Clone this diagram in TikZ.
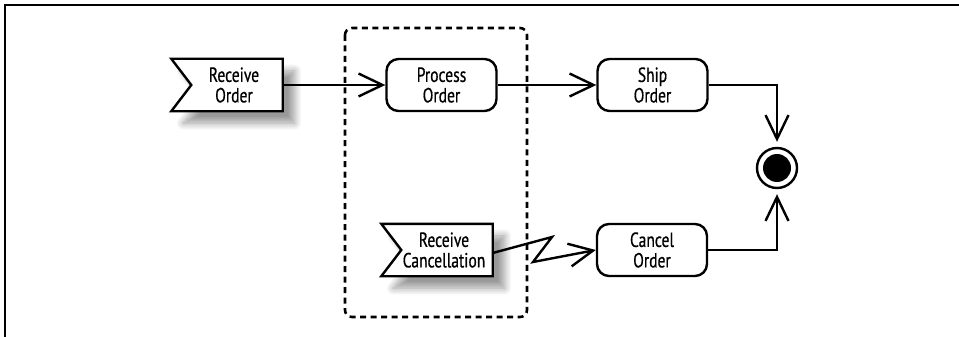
\documentclass[tikz,border=0pt]{standalone}
\usepackage{fontspec}
\setmainfont{PT Sans}[FakeStretch=0.76,FakeBold=0.6]
\usetikzlibrary{arrows.meta,shadows.blur,calc}
\tikzset{
  lw/.style={line width=2.4pt},
  txt/.style={font=\fontsize{20.5}{20.5}\selectfont},
  action/.style={lw, txt, draw=black, rounded corners=12pt, minimum width=110pt, minimum height=52pt, align=center, inner sep=0pt},
  flagtext/.style={txt, minimum width=91pt, minimum height=52pt, align=center, inner sep=0pt},
  flagshape/.style={fill=white, blur shadow={shadow xshift=12pt, shadow yshift=-12pt, shadow blur steps=12, shadow blur radius=7pt, shadow opacity=40}},
  flagline/.style={lw, line join=miter},
  flow/.style={lw, -{Straight Barb[length=24pt,width=23pt,line width=2.4pt]}},
  frame/.style={line width=1.8pt},
  region/.style={line width=2.6pt, dash pattern=on 6pt off 4.5pt, rounded corners=7pt},
}
\begin{document}
\begin{tikzpicture}[x=1pt,y=-1pt]
\useasboundingbox (0,0) rectangle (959,337);
\draw[frame] (5,337) -- (5,5) -- (959,5);
% interruptible region
\draw[region] (345,28) rectangle (527,317);
% flag nodes
\node[flagtext] (ro) at (237,85) {};
\fill[flagshape] ([xshift=-20pt]ro.north west) -- (ro.north east) -- (ro.south east) -- ([xshift=-20pt]ro.south west) -- (ro.west) -- cycle;
\draw[flagline] ([xshift=-20pt]ro.north west) -- (ro.north east) -- (ro.south east) -- ([xshift=-20pt]ro.south west) -- (ro.west) -- cycle;
\node[flagtext] at ([xshift=-3pt]ro.center) {Receive\\Order};
\node[flagtext] (rc) at (447,250) {};
\fill[flagshape] ([xshift=-20pt]rc.north west) -- (rc.north east) -- (rc.south east) -- ([xshift=-20pt]rc.south west) -- (rc.west) -- cycle;
\draw[flagline] ([xshift=-20pt]rc.north west) -- (rc.north east) -- (rc.south east) -- ([xshift=-20pt]rc.south west) -- (rc.west) -- cycle;
\node[flagtext] at ([xshift=-3pt]rc.center) {Receive\\Cancellation};
% actions
\node[action] (po) at (441.5,85) {Process\\Order};
\node[action] (so) at (652.5,85) {Ship\\Order};
\node[action] (co) at (652,250) {Cancel\\Order};
% final node
\node[circle, lw, draw, minimum size=40pt, inner sep=0pt] (fin) at (777,168) {};
\fill (fin) circle (14pt);
% connectors
\draw[flow] (ro.east) -- (po.west);
\draw[flow] (po.east) -- (so.west);
\draw[flow, shorten >=5pt] (so.east) -| (fin.north);
\draw[flow, shorten >=5pt] (co.east) -| (fin.south);
\draw[flow, line join=miter] ([yshift=-3pt]rc.east) -- (552,237) -- (533,262) -- (co.west);
\end{tikzpicture}
\end{document}
